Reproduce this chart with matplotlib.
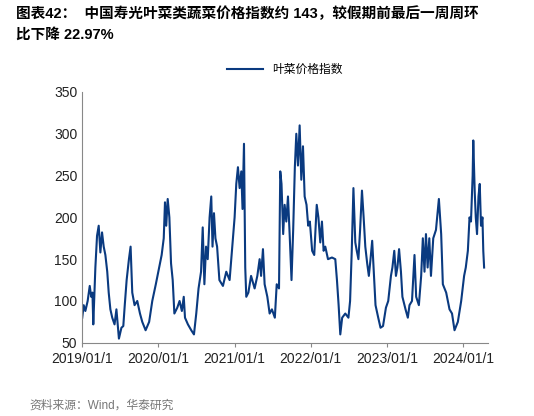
import matplotlib
matplotlib.use("Agg")
import matplotlib.pyplot as plt
import pandas as pd

plt.rcParams['font.family'] = ['Liberation Sans', 'Noto Sans CJK SC', 'DejaVu Sans']

dates = [
"2019-01-01","2019-01-08","2019-01-16","2019-01-27","2019-02-06","2019-02-13","2019-02-19","2019-02-23",
"2019-03-05","2019-03-13","2019-03-21","2019-03-29","2019-04-06","2019-04-14","2019-04-22","2019-05-01",
"2019-05-08","2019-05-16","2019-05-25","2019-06-05","2019-06-14","2019-06-26","2019-07-08","2019-07-17",
"2019-07-24","2019-08-02","2019-08-13","2019-08-21","2019-08-29","2019-09-09","2019-09-22","2019-10-05",
"2019-10-16","2019-11-01","2019-11-18","2019-12-03","2019-12-20",
"2020-01-05","2020-01-17","2020-01-27","2020-02-02","2020-02-08","2020-02-15","2020-02-23","2020-03-02",
"2020-03-10","2020-03-18","2020-04-01","2020-04-12","2020-04-23","2020-05-02","2020-05-08","2020-05-22",
"2020-06-07","2020-06-20","2020-07-01","2020-07-12","2020-07-24","2020-08-01","2020-08-09","2020-08-17",
"2020-08-25","2020-09-03","2020-09-11","2020-09-17","2020-09-24","2020-10-01","2020-10-09","2020-10-20",
"2020-11-06","2020-11-22","2020-12-08","2020-12-19",
"2021-01-01","2021-01-09","2021-01-17","2021-01-25","2021-02-02","2021-02-08","2021-02-15","2021-02-21",
"2021-02-26","2021-03-08","2021-03-21","2021-04-07","2021-04-20","2021-05-01","2021-05-08","2021-05-17",
"2021-05-25","2021-06-07","2021-06-18","2021-06-29","2021-07-13","2021-07-22","2021-08-02","2021-08-08",
"2021-08-14","2021-08-22","2021-08-29","2021-09-06","2021-09-14","2021-09-22","2021-10-01","2021-10-09",
"2021-10-17","2021-10-24","2021-11-01","2021-11-09","2021-11-17","2021-11-25","2021-12-03","2021-12-12",
"2021-12-20","2021-12-28",
"2022-01-08","2022-01-18","2022-01-30","2022-02-07","2022-02-16","2022-02-24","2022-03-04","2022-03-12",
"2022-03-25","2022-04-13","2022-04-29","2022-05-07","2022-05-15","2022-05-23","2022-06-01","2022-06-16",
"2022-07-01","2022-07-09","2022-07-17","2022-07-25","2022-08-03","2022-08-10","2022-08-18","2022-08-26",
"2022-09-04","2022-09-12","2022-09-20","2022-09-29","2022-10-07","2022-10-15","2022-10-23","2022-11-01",
"2022-11-08","2022-11-21","2022-12-02","2022-12-14","2022-12-28",
"2023-01-08","2023-01-21","2023-01-28","2023-02-06","2023-02-14","2023-02-21","2023-03-01","2023-03-10",
"2023-03-17","2023-04-01","2023-04-12","2023-04-20","2023-05-02","2023-05-14","2023-05-22","2023-06-04",
"2023-06-15","2023-06-23","2023-07-01","2023-07-08","2023-07-16","2023-07-24","2023-08-01","2023-08-12",
"2023-08-25","2023-09-08","2023-09-19","2023-09-27","2023-10-13","2023-10-29","2023-11-10","2023-11-22",
"2023-12-08","2023-12-24",
"2024-01-07","2024-01-15","2024-01-25","2024-02-02","2024-02-09","2024-02-17","2024-02-20","2024-02-27",
"2024-03-03","2024-03-09","2024-03-16","2024-03-22","2024-03-28","2024-04-04","2024-04-08","2024-04-12",
]
values = [
80,95,88,100,118,105,110,72,
140,178,190,158,182,165,155,135,
110,90,80,72,90,55,68,70,
95,125,150,165,110,95,100,85,
75,65,75,100,120,
140,155,175,218,190,222,200,145,
125,85,92,100,88,105,80,72,
65,60,85,115,135,188,120,165,
150,200,225,165,205,175,165,125,
118,135,125,160,
200,240,260,235,255,210,288,140,
105,110,130,115,130,150,130,162,
120,105,85,90,80,120,115,255,
240,180,215,195,225,180,125,185,
260,300,262,310,245,285,225,215,
190,195,
160,155,215,200,170,195,160,165,
150,152,150,125,95,60,80,85,
80,100,160,235,170,160,150,185,
232,200,165,145,130,150,172,130,
95,80,68,70,92,
100,130,140,160,130,140,162,135,
105,90,80,95,100,155,105,95,
130,175,135,180,140,175,130,175,
185,222,180,120,110,90,85,65,
75,100,
130,140,160,200,195,250,292,230,
200,180,225,240,190,200,160,140,
]
series_name = "叶菜价格指数"
title = "图表42：  中国寿光叶菜类蔬菜价格指数约 143，较假期前最后一周周环\n比下降 22.97%"
source = "资料来源：Wind，华泰研究"
yticks = [50, 100, 150, 200, 250, 300, 350]
xtick_dates = ["2019-01-01","2020-01-01","2021-01-01","2022-01-01","2023-01-01","2024-01-01"]
xtick_labels = ["2019/01/1","2020/01/1","2021/01/1","2022/01/1","2023/01/1","2024/01/1"]

fig = plt.figure(figsize=(5.34, 4.16), dpi=100)
ax = fig.add_axes([0.154, 0.176, 0.76, 0.603])
ax.plot(pd.to_datetime(dates), values, color="#0a3a80", lw=1.5, label=series_name)
ax.set_ylim(50, 350)
ax.set_yticks(yticks)
ax.set_xlim(pd.Timestamp("2019-01-01"), pd.Timestamp("2024-05-01"))
ax.set_xticks(pd.to_datetime(xtick_dates))
ax.set_xticklabels(xtick_labels)
for s in ["top", "right"]:
    ax.spines[s].set_visible(False)
for s in ["left", "bottom"]:
    ax.spines[s].set_color("#888888")
ax.tick_params(axis="both", labelsize=10, colors="#222222", length=3)
ax.tick_params(axis="y", length=0)
ax.tick_params(axis="x", color="#888888")
ax.legend(loc="lower center", bbox_to_anchor=(0.5, 1.02), frameon=False, fontsize=8.5,
          handlelength=3)
fig.text(0.03, 0.985, title, fontsize=10.5, fontweight="bold", va="top", ha="left",
         linespacing=1.6)
fig.text(0.055, 0.025, source, fontsize=8.5, color="#777777", va="center")
fig.savefig("out.png", dpi=100)
